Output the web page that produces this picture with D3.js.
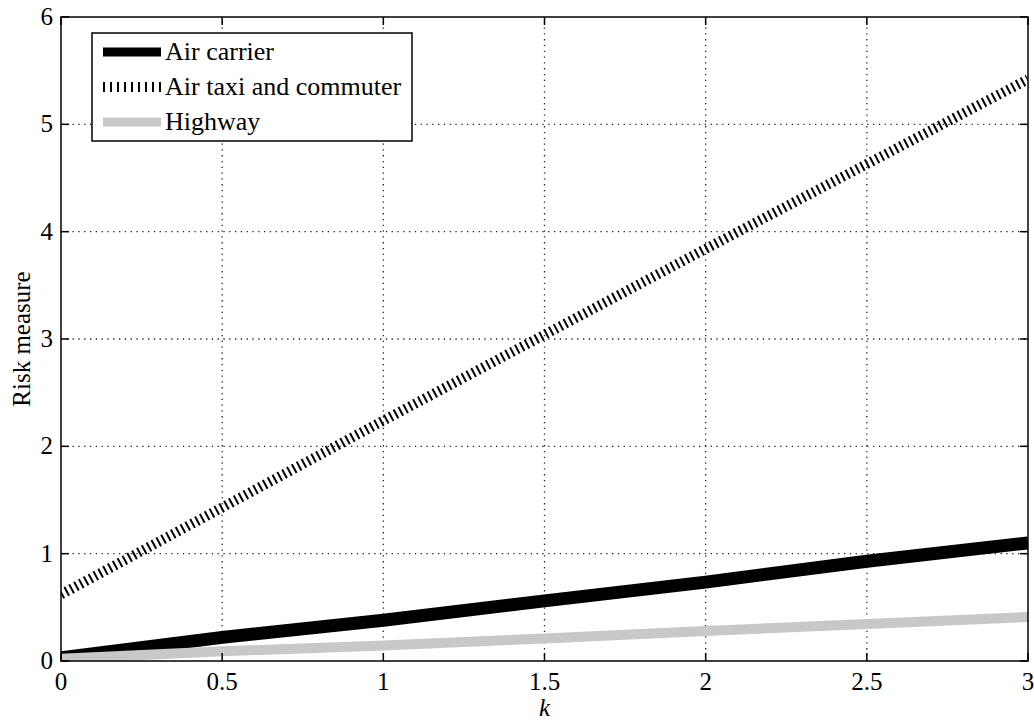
<!DOCTYPE html>
<html>
<head>
<meta charset="utf-8">
<script src="https://cdn.jsdelivr.net/npm/d3@7"></script>
<style>
  body { margin: 0; background: #fff; }
  svg text { font-family: "Liberation Serif", "Times New Roman", Times, serif; fill: #000; }
</style>
</head>
<body>
<div id="chart"></div>
<script>
// Данные
const kValues = [0, 0.5, 1, 1.5, 2, 2.5, 3];
const airCarrier = [0.03, 0.22, 0.38, 0.56, 0.735, 0.93, 1.1];
const airTaxi = [0.62, 1.43, 2.24, 3.04, 3.84, 4.63, 5.42];
const highway = [0.02, 0.09, 0.145, 0.21, 0.28, 0.345, 0.41];
const xTicks = [0, 0.5, 1, 1.5, 2, 2.5, 3];
const yTicks = [0, 1, 2, 3, 4, 5, 6];

const seriesList = [
    { name: "Air carrier", values: airCarrier, color: "#000", width: 13, dash: null },
    { name: "Air taxi and commuter", values: airTaxi, color: "#000", width: 10, dash: "2,3.5" },
    { name: "Highway", values: highway, color: "#c8c8c8", width: 10, dash: null }
];

const width = 1034, height = 723;
const margin = { left: 61, right: 6, top: 17, bottom: 62 };

const svg = d3.select("#chart").append("svg")
    .attr("width", width)
    .attr("height", height);

const x = d3.scaleLinear().domain([0, 3]).range([margin.left, width - margin.right]);
const y = d3.scaleLinear().domain([0, 6]).range([height - margin.bottom, margin.top]);

const x0 = x.range()[0], x1 = x.range()[1];
const y0 = y.range()[0], y1 = y.range()[1];

// Сетка
const grid = svg.append("g").attr("class", "grid");
grid.selectAll(".gx")
    .data(xTicks.slice(1, -1))
    .enter().append("line")
    .attr("x1", d => x(d)).attr("x2", d => x(d))
    .attr("y1", y0).attr("y2", y1)
    .attr("stroke", "#222").attr("stroke-width", 1.3)
    .attr("stroke-dasharray", "1.3,4.5");
grid.selectAll(".gy")
    .data(yTicks.slice(1, -1))
    .enter().append("line")
    .attr("y1", d => y(d)).attr("y2", d => y(d))
    .attr("x1", x0).attr("x2", x1)
    .attr("stroke", "#222").attr("stroke-width", 1.3)
    .attr("stroke-dasharray", "1.3,4.5");

// Линии
const lineGen = d3.line()
    .x((d, i) => x(kValues[i]))
    .y(d => y(d));

const plot = svg.append("g").attr("class", "lines");
plot.append("defs").append("clipPath").attr("id", "clip")
    .append("rect")
    .attr("x", x0).attr("y", y1)
    .attr("width", x1 - x0).attr("height", y0 - y1);

[seriesList[1], seriesList[0], seriesList[2]].forEach(s => {
    plot.append("path")
        .datum(s.values)
        .attr("d", lineGen)
        .attr("fill", "none")
        .attr("stroke", s.color)
        .attr("stroke-width", s.width)
        .attr("stroke-dasharray", s.dash)
        .attr("clip-path", "url(#clip)");
});

// Рамка и засечки
svg.append("rect")
    .attr("x", x0).attr("y", y1)
    .attr("width", x1 - x0).attr("height", y0 - y1)
    .attr("fill", "none").attr("stroke", "#000").attr("stroke-width", 1.5);

const tickLen = 8;
const ticks = svg.append("g").attr("class", "ticks");
xTicks.forEach(t => {
    ticks.append("line").attr("x1", x(t)).attr("x2", x(t))
        .attr("y1", y0).attr("y2", y0 - tickLen).attr("stroke", "#000").attr("stroke-width", 1.5);
    ticks.append("line").attr("x1", x(t)).attr("x2", x(t))
        .attr("y1", y1).attr("y2", y1 + tickLen).attr("stroke", "#000").attr("stroke-width", 1.5);
    ticks.append("text")
        .attr("x", x(t)).attr("y", y0 + 29)
        .attr("text-anchor", "middle")
        .attr("font-size", "25px")
        .text(t);
});
yTicks.forEach(t => {
    ticks.append("line").attr("y1", y(t)).attr("y2", y(t))
        .attr("x1", x0).attr("x2", x0 + tickLen).attr("stroke", "#000").attr("stroke-width", 1.5);
    ticks.append("line").attr("y1", y(t)).attr("y2", y(t))
        .attr("x1", x1).attr("x2", x1 - tickLen).attr("stroke", "#000").attr("stroke-width", 1.5);
    ticks.append("text")
        .attr("x", x0 - 8).attr("y", y(t) + 8)
        .attr("text-anchor", "end")
        .attr("font-size", "25px")
        .text(t);
});

// Подписи осей
svg.append("text")
    .attr("x", (x0 + x1) / 2).attr("y", 716)
    .attr("text-anchor", "middle")
    .attr("font-size", "25px")
    .attr("font-style", "italic")
    .text("k");

svg.append("text")
    .attr("transform", `translate(30, ${(y0 + y1) / 2}) rotate(-90)`)
    .attr("text-anchor", "middle")
    .attr("font-size", "25px")
    .text("Risk measure");

// Легенда
const legend = svg.append("g").attr("transform", "translate(92, 33)");
legend.append("rect")
    .attr("width", 320).attr("height", 108)
    .attr("fill", "#fff").attr("stroke", "#000").attr("stroke-width", 1.5);

seriesList.forEach((s, i) => {
    const ly = 19 + i * 35;
    legend.append("line")
        .attr("x1", 11).attr("x2", 69)
        .attr("y1", ly).attr("y2", ly)
        .attr("stroke", s.color)
        .attr("stroke-width", s.dash ? 10 : 9)
        .attr("stroke-dasharray", s.dash ? "2,5" : null);
    legend.append("text")
        .attr("x", 73).attr("y", ly + 8)
        .attr("font-size", "26px")
        .text(s.name);
});
</script>
</body>
</html>
